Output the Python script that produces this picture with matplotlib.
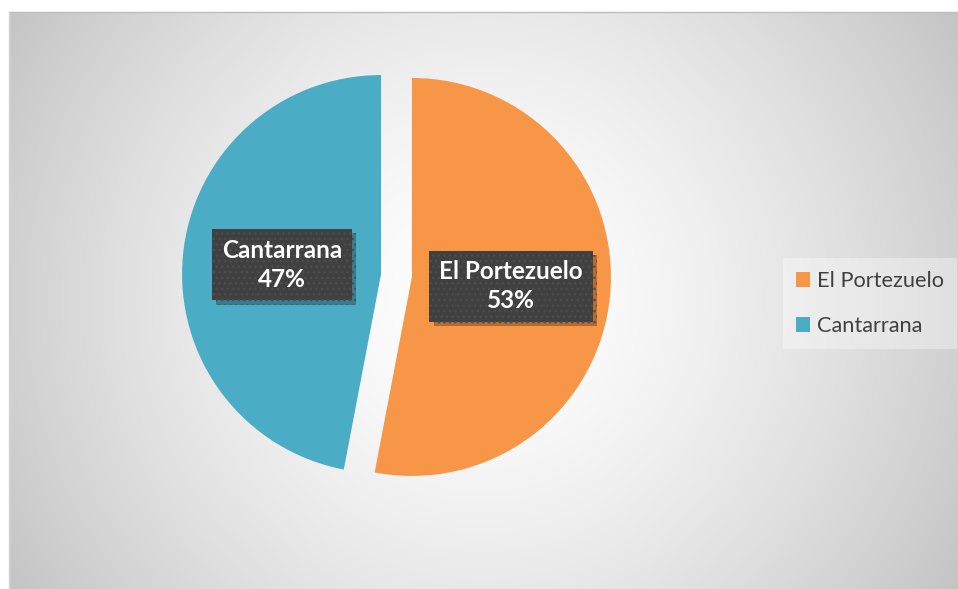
import numpy as np
import matplotlib
matplotlib.use("Agg")
import matplotlib.pyplot as plt
from matplotlib import patheffects as pe

# ---- data ----
names = ["El Portezuelo", "Cantarrana"]
values = [53, 47]
colors = ["#F79646", "#4BACC6"]

W, H = 958, 589
fig = plt.figure(figsize=(W / 100, H / 100), dpi=100)
fig.patch.set_facecolor("white")
ax = fig.add_axes([0, 0, 1, 1])
ax.set_xlim(0, W)
ax.set_ylim(0, H)
ax.axis("off")

# ---- chart area radial gradient background ----
x0, x1, ytop, ybot = 9, W, 12, H
xs = np.arange(x0, x1) + 0.5
ys = np.arange(ytop, ybot) + 0.5
XX, YY = np.meshgrid(xs, ys)
cx, cy = 483, 300
d = np.hypot(XX - cx, YY - cy) / 555.0
g = 255 - 59 * np.clip(d, 0, 1.2) ** 1.5
g = np.clip(g, 0, 255) / 255.0
img = np.dstack([g, g, g])
ax.imshow(img, extent=(x0, x1, H - ybot, H - ytop), origin="upper",
          zorder=0, interpolation="bilinear", aspect="auto")
ax.plot([x0, x1], [H - ytop, H - ytop], color="#bdbdbd", lw=1.0, zorder=1)
ax.plot([x0, x0], [H - ytop, 0], color="#d4d4d4", lw=1.0, zorder=1)

# ---- pie ----
total = sum(values)
label_texts = [f"{n}\n{v / total:.0%}" for n, v in zip(names, values)]
wedges, texts = ax.pie(values, labels=label_texts, colors=colors,
                       startangle=90, counterclock=False,
                       explode=[15.5, 15.5], radius=199,
                       center=(396.5, H - 275.5), labeldistance=0.5,
                       frame=True, wedgeprops=dict(linewidth=0))
ax.set_xlim(0, W)
ax.set_ylim(0, H)
ax.set_aspect("auto")
ax.axis("off")

for t in texts:
    t.set_ha("center")
    t.set_va("center")
    t.set_multialignment("center")
    t.set_color("white")
    t.set_fontweight("bold")
    t.set_fontsize(17.5)
    t.set_fontfamily(["Lato", "DejaVu Sans"])
    t.set_linespacing(1.32)
    t.set_bbox(dict(boxstyle="square,pad=0.4", facecolor="#404040",
                    edgecolor="#4d4d4d", linewidth=0, hatch="..."))
    t.get_bbox_patch().set_path_effects([
        pe.SimplePatchShadow(offset=(3, -3), shadow_rgbFace="black", alpha=0.28),
        pe.Normal()])

# ---- legend ----
leg = ax.legend(wedges, names, loc="upper left",
                bbox_to_anchor=(783, H - 258), bbox_transform=ax.transData,
                prop={"family": ["Lato", "DejaVu Sans"], "size": 15.7},
                handlelength=0.65, handleheight=0.65, handletextpad=0.3,
                labelspacing=1.15, borderpad=0.6, borderaxespad=0,
                frameon=True, fancybox=False)
leg.get_frame().set_facecolor("white")
leg.get_frame().set_alpha(0.35)
leg.get_frame().set_edgecolor("none")
for txt in leg.get_texts():
    txt.set_color("#404040")

fig.savefig("out.png", dpi=100, facecolor="white")
